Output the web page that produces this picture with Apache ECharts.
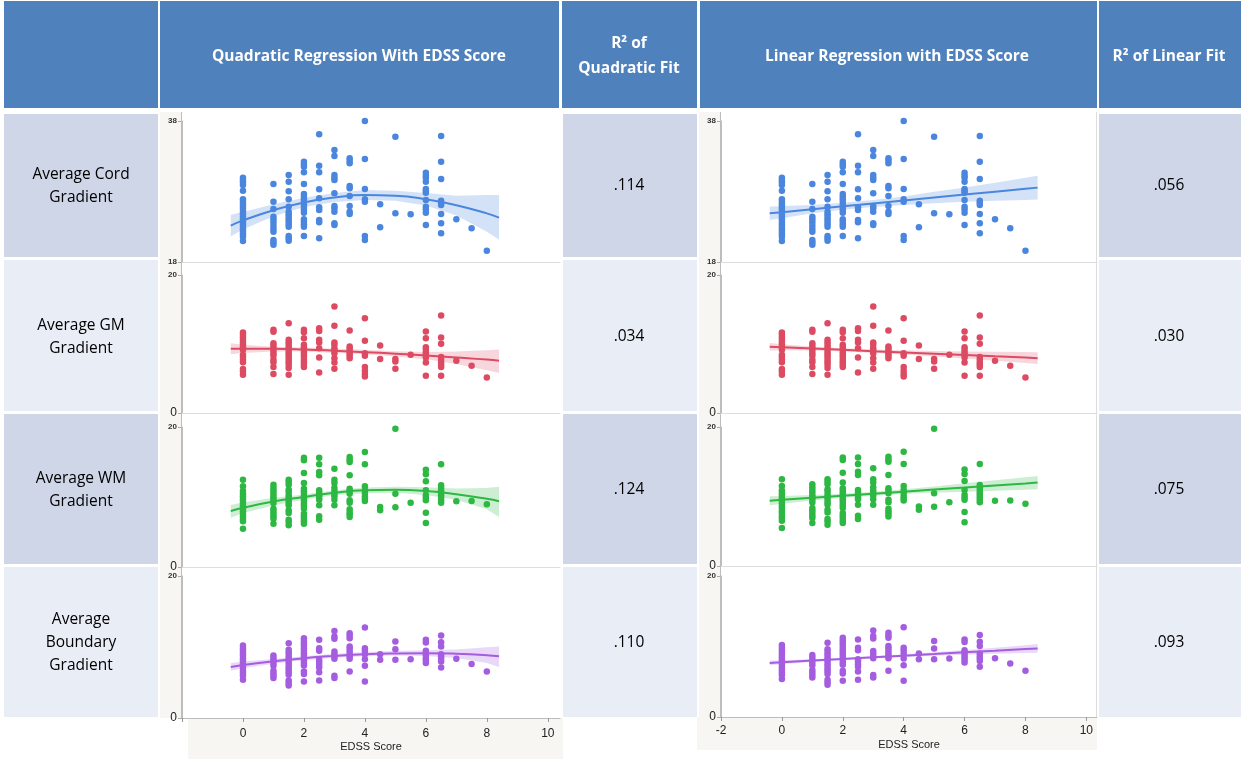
<!DOCTYPE html>
<html><head><meta charset="utf-8">
<script src="https://cdn.jsdelivr.net/npm/echarts/dist/echarts.min.js"></script>
<style>html,body{margin:0;padding:0;background:#fff}#c{width:1241px;height:759px}</style>
</head><body><div id="c"></div><script>
// ---------- DATA ----------
const edssLevels = [0,1,1.5,2,2.5,3,3.5,4,4.5,5,5.5,6,6.5,7,7.5,8];

const cordValues = [
 [29.96,29.63,29.3,28.92,28.12,26.89,26.56,26.18,25.85,25.52,25.14,24.76,24.43,24.05,23.72,23.34,23.01,22.63,22.3,21.92,21.59,20.98],
 [29.06,26.56,25.52,24.43,24.05,23.63,23.15,22.68,22.3,21.12,20.79,20.46],
 [30.34,29.4,28.02,26.89,25.85,25.14,24.76,24.43,24.05,23.72,23.34,23.01,21.69,21.36,21.03],
 [32.23,31.85,31.52,30.72,29.06,27.65,27.27,26.89,26.51,26.09,25.71,25.38,25.0,24.05,23.72,23.34,23.01,21.69],
 [36.11,31.66,30.72,28.31,27.03,25.75,25.38,23.96,23.63,21.36],
 [33.89,33.04,30.34,29.96,29.63,27.74,25.94,25.61,25.14,23.48,23.25],
 [32.7,32.37,32.0,28.78,28.45,27.36,25.94,25.14,24.81],
 [38.0,32.61,28.35,26.89,26.56,21.69,21.12],
 [26.18,22.92],
 [35.78,24.9],
 [24.76],
 [30.67,30.25,29.96,29.4,28.35,28.07,27.83,26.79,25.85,25.47,25.0,23.25],
 [35.87,32.23,29.77,26.7,26.42,26.09,24.81,23.48,22.07],
 [24.05],[22.78],[19.61]
];
const gmValues = [
 [11.66,11.33,10.99,10.6,10.22,9.88,9.54,9.16,8.43,8.1,7.71,7.37,6.36,6.02,5.54],
 [12.05,11.76,10.12,9.73,9.4,9.06,8.67,8.29,7.71,7.37,6.65,5.64],
 [13.01,10.6,10.27,9.88,9.54,9.16,8.77,8.43,8.1,7.71,7.37,6.99,6.51,5.54],
 [12.05,11.71,10.84,9.88,9.54,9.16,8.82,8.43,8.1,7.71,7.37,6.99,6.65],
 [12.29,11.9,10.6,10.22,9.4,8.05,5.88],
 [15.42,12.63,10.22,9.88,9.4,9.06,8.67,7.95,7.33,6.41],
 [11.95,9.64,9.3,8.96,8.63,8.29,7.95],
 [13.73,10.46,8.67,8.29,6.65,6.12,5.64,5.3],
 [9.78,7.81],
 [7.81,7.47,6.41],
 [8.43],
 [11.81,10.84,9.54,9.16,8.77,8.43,8.05,7.33,5.4],
 [14.12,10.94,10.02,8.1,7.71,7.33,6.99,6.65,5.4],
 [7.57],[6.84],[5.16]
];
const wmValues = [
 [12.48,11.52,10.86,10.48,10.1,9.76,9.43,9.05,8.67,8.33,7.95,7.62,7.24,6.9,6.52,5.48],
 [11.76,11.33,10.95,10.57,10.19,9.86,9.52,9.14,8.33,8.0,7.62,7.24,6.9,6.19],
 [12.48,12.14,11.76,11.05,10.71,10.24,9.9,9.52,9.14,8.81,8.1,7.71,6.76,6.43,5.95],
 [15.62,15.24,13.43,12.0,11.19,10.81,10.48,10.1,9.76,9.43,9.05,8.71,8.33,7.62,7.24,6.9,6.52,6.19],
 [15.62,14.67,13.57,13.1,10.95,10.57,10.24,9.9,9.62,8.81,7.24,6.76],
 [14.05,12.48,12.0,11.33,10.86,10.48,10.1,9.62,8.81],
 [15.71,15.33,15.0,13.1,11.19,10.86,10.48,9.52,9.19,8.24,7.86,7.52,7.14],
 [16.43,14.67,11.52,10.95,10.57,10.1,9.76,9.43],
 [8.57,8.1],
 [19.76,10.48,8.52],
 [9.19],
 [13.9,13.24,12.24,10.95,10.24,9.9,9.52,7.76,6.29],
 [14.67,11.67,11.33,10.95,10.57,10.24,9.9,9.52,9.19],
 [9.38],[9.43],[8.95]
];
const boundaryValues = [
 [10.21,9.84,9.46,9.13,8.81,8.43,8.1,7.73,7.4,7.03,6.65,6.32,5.95,5.39],
 [8.81,8.43,8.06,7.73,7.35,6.65,6.32,5.95,5.62],
 [10.54,9.6,9.27,8.9,8.52,8.2,7.87,7.49,7.12,6.79,6.46,6.09,5.29,4.92,4.59],
 [11.24,10.87,10.54,10.21,9.84,9.46,9.13,8.81,8.43,8.1,7.73,7.4,6.56,6.18,5.15],
 [11.01,9.84,9.46,8.2,7.87,7.49,7.12,6.46,5.29],
 [12.27,11.48,11.15,9.37,8.99,8.67,8.34,5.95,5.62],
 [11.94,11.57,11.24,10.07,9.74,9.37,8.99,8.67,8.34,6.56],
 [12.74,9.84,9.46,8.99,8.29,7.35,5.15],
 [8.99,8.2],
 [10.77,9.7,8.2],
 [8.29],
 [11.01,10.63,9.46,9.13,8.81,8.43,8.1,7.73],
 [11.62,10.68,10.07,8.99,8.67,8.34,7.96,7.12],
 [8.34],[7.59],[6.56]
];

// fitted curves and 95% bands, read at these EDSS values
const fitX = [-0.4,0,1,2,3,4,5,6,7,8,8.4];

const cordQuadFit = [23.15,23.9,25.35,26.45,27.15,27.5,27.4,26.9,26.05,24.9,24.3];
const cordQuadLo  = [21.6,22.6,24.5,25.8,26.5,26.8,26.7,26.0,24.6,22.3,21.2];
const cordQuadHi  = [24.7,25.1,26.2,27.1,27.8,28.2,28.1,27.8,27.4,27.5,27.5];
const cordLinFit  = [24.9,25.07,25.48,25.9,26.31,26.73,27.14,27.56,27.97,28.39,28.55];
const cordLinLo   = [23.95,24.2,24.9,25.4,25.8,26.1,26.35,26.55,26.7,26.8,26.85];
const cordLinHi   = [25.85,25.95,26.1,26.4,26.8,27.3,27.95,28.55,29.25,29.95,30.25];

const gmQuadFit = [9.3,9.32,9.3,9.2,9.03,8.82,8.6,8.33,8.05,7.75,7.57];
const gmQuadLo  = [8.5,8.7,8.9,8.9,8.7,8.5,8.2,7.8,7.1,6.2,5.8];
const gmQuadHi  = [10.1,9.9,9.6,9.5,9.35,9.15,8.95,8.85,8.9,9.1,9.2];
const gmLinFit  = [9.6,9.53,9.34,9.15,8.96,8.78,8.59,8.4,8.21,8.03,7.95];
const gmLinLo   = [9.05,9.08,9.04,8.9,8.71,8.48,8.19,7.9,7.56,7.23,7.1];
const gmLinHi   = [10.15,9.98,9.64,9.4,9.21,9.08,8.99,8.9,8.86,8.83,8.8];

const wmQuadFit = [8.0,8.45,9.35,10.0,10.6,10.95,11.02,10.85,10.4,9.75,9.4];
const wmQuadLo  = [7.05,7.7,8.8,9.65,10.25,10.55,10.6,10.3,9.6,8.25,7.15];
const wmQuadHi  = [8.85,9.2,9.9,10.35,10.95,11.35,11.45,11.4,11.2,11.3,11.45];
const wmLinFit  = [9.4,9.52,9.81,10.11,10.4,10.7,11.0,11.29,11.59,11.88,12.0];
const wmLinLo   = [8.75,8.97,9.41,9.81,10.1,10.35,10.55,10.69,10.84,10.98,11.05];
const wmLinHi   = [10.05,10.07,10.21,10.41,10.7,11.05,11.45,11.89,12.34,12.78,12.95];

const bndQuadFit = [7.17,7.45,7.98,8.43,8.75,8.99,9.1,9.13,9.05,8.85,8.7];
const bndQuadLo  = [6.65,7.0,7.65,8.15,8.5,8.7,8.8,8.75,8.45,7.75,7.2];
const bndQuadHi  = [7.75,7.95,8.3,8.7,9.05,9.3,9.45,9.55,9.65,9.95,10.07];
const bndLinFit  = [7.67,7.76,8.0,8.23,8.46,8.7,8.93,9.17,9.4,9.64,9.73];
const bndLinLo   = [7.34,7.48,7.8,8.07,8.3,8.51,8.68,8.84,8.98,9.09,9.1];
const bndLinHi   = [8.0,8.04,8.2,8.39,8.62,8.89,9.18,9.5,9.82,10.19,10.36];

const yRanges = [[18,38],[0,20],[0,20],[0,20]];
const xTicks = [-2,0,2,4,6,8,10];

const headerLabels = ['', 'Quadratic Regression With EDSS Score', 'R\u00B2 of\nQuadratic Fit', 'Linear Regression with EDSS Score', 'R\u00B2 of Linear Fit'];
const rowLabels = ['Average Cord\nGradient','Average GM\nGradient','Average WM\nGradient','Average\nBoundary\nGradient'];
const quadR2 = ['.114','.034','.124','.110'];
const linR2  = ['.056','.030','.075','.093'];

// ---------- STYLE / LAYOUT ----------
const rowData = [
 {vals:cordValues, q:[cordQuadFit,cordQuadLo,cordQuadHi], l:[cordLinFit,cordLinLo,cordLinHi]},
 {vals:gmValues, q:[gmQuadFit,gmQuadLo,gmQuadHi], l:[gmLinFit,gmLinLo,gmLinHi]},
 {vals:wmValues, q:[wmQuadFit,wmQuadLo,wmQuadHi], l:[wmLinFit,wmLinLo,wmLinHi]},
 {vals:boundaryValues, q:[bndQuadFit,bndQuadLo,bndQuadHi], l:[bndLinFit,bndLinLo,bndLinHi]}
];
const colors = ['#4a86de','#dc4b62','#2db743','#a55de0'];
const bandColors = ['rgba(74,134,222,0.24)','rgba(220,75,98,0.22)','rgba(45,183,67,0.24)','rgba(165,93,224,0.24)'];
const plotTop = [121,275,427,576];
const plotBot = [262,413,567,718];
const plotBotR = [262,413,566,717];
const cellTop = [114,260,414,567];
const cellBot = [257,411,564,717];
const dark = '#cfd6e7', light = '#e9edf5', hdr = '#4f81bd', beige = '#f7f6f2';

const grids = [], xAxes = [], yAxes = [], series = [];
for (let side=0; side<2; side++){
 for (let r=0; r<4; r++){
  const gi = side*4 + r;
  const last = r===3;
  const top = plotTop[r];
  const bot = side===0 ? plotBot[r] : plotBotR[r];
  grids.push({left: side===0?182:721, top: top, width: side===0?378:376, height: bot-top, containLabel:false});
  xAxes.push({
   gridIndex:gi, type:'value', min:-2, max: side===0?10.4:10.35, interval:2,
   axisLine:{show:true, onZero:false, lineStyle:{color: last?'#bdbdbd':'#dedede', width:1}},
   axisTick:{show:last, length:4, lineStyle:{color:'#999'}},
   axisLabel:{show:last, fontSize:12, color:'#222', fontFamily:'Liberation Sans', margin: side===0?10:8,
     showMaxLabel:false,
     formatter: v => (xTicks.indexOf(v)<0 || (side===0 && v===-2)) ? '' : String(v)},
   splitLine:{show:false},
   name: last?'EDSS Score':'', nameLocation:'middle', nameGap: side===0?23:22,
   nameTextStyle:{fontSize:11, color:'#222', fontFamily:'Liberation Sans'}
  });
  const [mn,mx] = yRanges[r];
  yAxes.push({
   gridIndex:gi, type:'value', min:mn, max:mx, interval:mx-mn,
   axisLine:{show:true, onZero:false, lineStyle:{color:'#bdbdbd'}},
   axisTick:{show:true, length:4, lineStyle:{color:'#aaa'}},
   axisLabel:{margin:5, fontFamily:'Liberation Sans',
     formatter: v => (v===mx || r===0) ? '{s|'+v+'}' : '{b|'+v+'}',
     rich:{s:{fontSize:8, fontWeight:'bold', color:'#333', fontFamily:'Liberation Sans'},
           b:{fontSize:12, color:'#222', fontFamily:'Liberation Sans'}}},
   splitLine:{show:false}
  });
  const fit = side===0 ? rowData[r].q : rowData[r].l;
  const lo = fit[1], hi = fit[2];
  series.push({
   type:'custom', xAxisIndex:gi, yAxisIndex:gi, silent:true, z:1,
   data:[[fitX[0], fit[0][0]]],
   renderItem:(params, api) => {
    const pts = [];
    for (let k=0;k<fitX.length;k++) pts.push(api.coord([fitX[k], hi[k]]));
    for (let k=fitX.length-1;k>=0;k--) pts.push(api.coord([fitX[k], lo[k]]));
    return {type:'polygon', shape:{points:pts}, style:{fill:bandColors[r], stroke:null}};
   }
  });
  const pts = [];
  rowData[r].vals.forEach((col,i)=>col.forEach(v=>pts.push([edssLevels[i], v])));
  series.push({type:'scatter', xAxisIndex:gi, yAxisIndex:gi, z:3, symbolSize:6.5, silent:true,
   itemStyle:{color:colors[r], opacity:1}, data:pts});
  series.push({type:'line', xAxisIndex:gi, yAxisIndex:gi, z:4, smooth:side===0, showSymbol:false, silent:true,
   lineStyle:{color:colors[r], width:2}, data: fitX.map((x,k)=>[x, fit[0][k]])});
 }
}

// ---------- TABLE GRAPHICS ----------
const g = [];
function rect(x,y,w,h,fill,z){ g.push({type:'rect', z:z||-10, silent:true, shape:{x:x,y:y,width:w,height:h}, style:{fill:fill}}); }
function txt(s,x,y,font,fill,lh){ g.push({type:'text', z:100, silent:true, x:x, y:y,
  style:{text:s, font:font, fill:fill, align:'center', verticalAlign:'middle', textAlign:'center', textVerticalAlign:'middle', lineHeight:lh||22}}); }
function vline(x,y1,y2,c){ g.push({type:'line', z:50, silent:true, shape:{x1:x,y1:y1,x2:x,y2:y2}, style:{stroke:c, lineWidth:1}}); }

// header
const hx = [[4,158],[160,559],[562,697],[700,1097],[1099,1241]];
hx.forEach(([a,b])=>rect(a,1,b-a,107,hdr));
// beige strips
rect(160,112,22,606,beige);
rect(188,718,375,41,beige);
rect(699,112,22,605,beige);
rect(697,717,400,33,beige);
// body cells
for (let r=0;r<4;r++){
 const c = (r%2===0)?dark:light;
 rect(4,cellTop[r],154,cellBot[r]-cellTop[r],c);
 rect(563,cellTop[r],134,cellBot[r]-cellTop[r],c);
 rect(1099,cellTop[r],142,cellBot[r]-cellTop[r],c);
}
vline(181.5,112,718,'#bdbdbd');
vline(720.5,112,717,'#bdbdbd');
vline(1096.5,112,717,'#dddddd');

const hf = 'bold 15.5px "Open Sans"';
txt(headerLabels[1],359,57,hf,'#fff');
txt(headerLabels[2],629,56,hf,'#fff',25);
txt(headerLabels[3],897,57,hf,'#fff');
txt(headerLabels[4],1169,57,hf,'#fff');
const bf = '15.5px "Open Sans"';
const labY = [186,337,490,643];
for (let r=0;r<4;r++){
 txt(rowLabels[r],81,labY[r],bf,'#000',23);
 txt(quadR2[r],629,labY[r],bf,'#000');
 txt(linR2[r],1169,labY[r],bf,'#000');
}

const chart = echarts.init(document.getElementById('c'), null, {renderer:'canvas'});
chart.setOption({
 animation:false,
 backgroundColor:'#ffffff',
 textStyle:{fontFamily:'Liberation Sans'},
 grid:grids, xAxis:xAxes, yAxis:yAxes, series:series,
 graphic:{elements:g}
});
</script></body></html>
